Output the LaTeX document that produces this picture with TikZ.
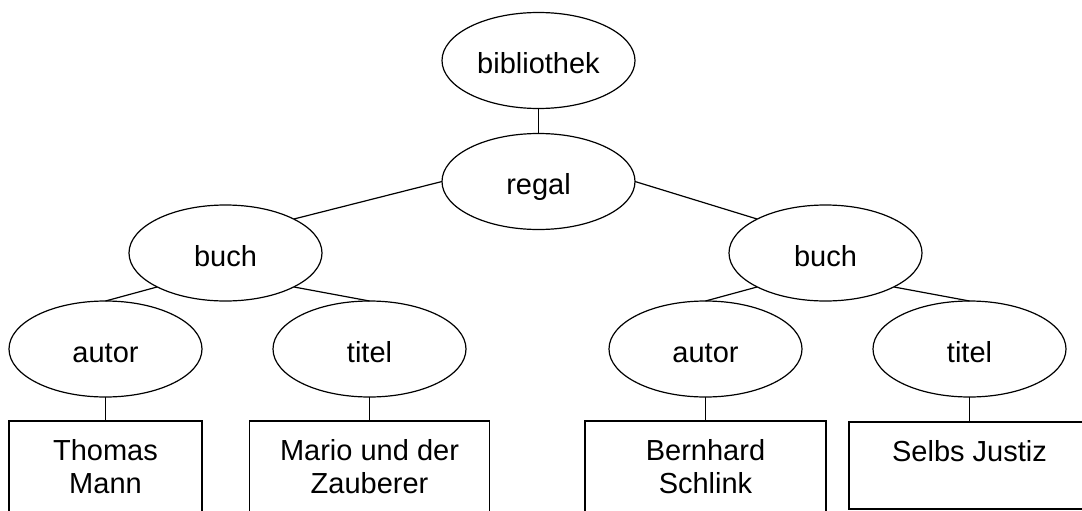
\documentclass[tikz,border=0pt]{standalone}
\usepackage{fontspec}
\setmainfont{Liberation Sans}
\usetikzlibrary{shapes.geometric}
\begin{document}
\begin{tikzpicture}[x=1pt,y=-1pt,
  every node/.style={font=\fontsize{29}{33}\selectfont},
  oval/.style={draw, ellipse, line width=1.2pt, minimum width=193pt, minimum height=96pt,
    inner sep=0pt, outer sep=0pt, text height=26pt, text depth=0pt},
  leaf/.style={draw, rectangle, line width=1.2pt, inner sep=0pt, outer sep=0pt},
  leaftext/.style={anchor=north, align=center, inner sep=0pt, yshift=-18pt},
  link/.style={line width=1.2pt}]
  \useasboundingbox (0,0) rectangle (1082,511);
  \clip (0,0) rectangle (1082,511);

  % element nodes
  \node[oval] (bib)  at (538.5,60.5)  {bibliothek};
  \node[oval] (reg)  at (538.5,181.5) {regal};
  \node[oval] (b1)   at (225.5,253)   {buch};
  \node[oval] (b2)   at (825.5,253)   {buch};
  \node[oval] (a1)   at (105.5,349)   {autor};
  \node[oval] (t1)   at (369.5,349)   {titel};
  \node[oval] (a2)   at (705.5,349)   {autor};
  \node[oval] (t2)   at (969.5,349)   {titel};

  % text content boxes
  \node[leaf, minimum width=193pt, minimum height=119pt] (v1) at (105.5,480.5) {};
  \node[leaf, minimum width=240pt, minimum height=119pt] (v2) at (369.5,480.5) {};
  \node[leaf, minimum width=241pt, minimum height=119pt] (v3) at (705.5,480.5) {};
  \node[leaf, minimum width=241pt, minimum height=87pt]  (v4) at (969.5,465.5) {};
  \node[leaftext] (v1t) at (v1.north) {Thomas\\Mann};
  \node[leaftext] (v2t) at (v2.north) {Mario und der\\Zauberer};
  \node[leaftext] (v3t) at (v3.north) {Bernhard\\Schlink};
  \node[leaftext] (v4t) at (v4.north) {Selbs Justiz};

  % tree edges
  \draw[link] (bib.south) -- (reg.north);
  \draw[link] (reg.west) -- (b1.north east);
  \draw[link] (reg.east) -- (b2.north west);
  \draw[link] (b1.south west) -- (a1.north);
  \draw[link] (b1.south east) -- (t1.north);
  \draw[link] (b2.south west) -- (a2.north);
  \draw[link] (b2.south east) -- (t2.north);
  \draw[link] (a1.south) -- (v1.north);
  \draw[link] (t1.south) -- (v2.north);
  \draw[link] (a2.south) -- (v3.north);
  \draw[link] (t2.south) -- (v4.north);
\end{tikzpicture}
\end{document}
